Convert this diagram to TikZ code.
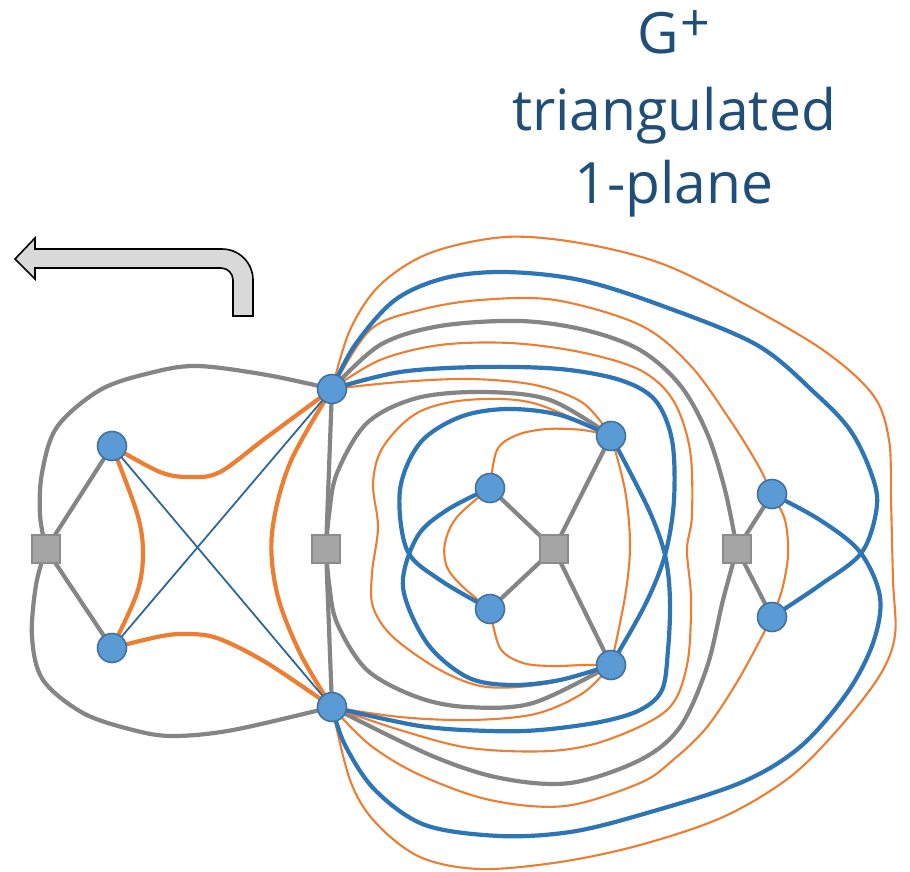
\documentclass[tikz,border=0pt]{standalone}
\usepackage{fontspec}
\setmainfont{Open Sans}
\usetikzlibrary{backgrounds}
\definecolor{eg}{HTML}{858585}
\definecolor{eo}{HTML}{ED7D31}
\definecolor{eb}{HTML}{2E75B6}
\definecolor{ex}{HTML}{2F6699}
\definecolor{nf}{HTML}{5B9BD5}
\definecolor{nd}{HTML}{41719C}
\definecolor{sf}{HTML}{A5A5A5}
\definecolor{sd}{HTML}{8C8C8C}
\definecolor{tc}{HTML}{1F4E79}
\definecolor{af}{HTML}{D9D9D9}
\begin{document}
\begin{tikzpicture}[x=1pt,y=-1pt,
  vtx/.style={circle,fill=nf,draw=nd,line width=1.6pt,minimum size=29pt,inner sep=0pt},
  sq/.style={rectangle,fill=sf,draw=sd,line width=1.6pt,minimum size=28pt,inner sep=0pt},
  ge/.style={draw=eg,line width=4.2pt},
  oe/.style={draw=eo,line width=4.2pt},
  ot/.style={draw=eo,line width=2.1pt},
  be/.style={draw=eb,line width=4.2pt},
  bt/.style={draw=ex,line width=1.8pt},
  sm/.style={smooth,tension=0.55},
  ttl/.style={text=tc,anchor=base,font=\fontsize{57}{57}\selectfont,inner sep=0pt}]
\useasboundingbox (0,0) rectangle (910,871);

% title
\node[ttl] (t1) at (674,53) {G\kern1pt\raisebox{0.2em}{\fontsize{52}{52}\selectfont +}};
\node[ttl] (t2) at (674,130) {triangulated};
\node[ttl] (t3) at (674,203) {1-plane};

% bent arrow
\draw[fill=af,draw=black,line width=1.6pt,line join=miter]
  (233,316) -- (233,280) .. controls (233,273.4) and (227.6,268) .. (221,268)
  -- (35,268) -- (35,279) -- (15,259) -- (35,238) -- (35,249) -- (222,249)
  .. controls (239.1,249) and (253,262.9) .. (253,280) -- (253,316) -- cycle;

% nodes
\node[sq] (S1) at (46,549) {};
\node[vtx] (L1) at (112,446) {};
\node[vtx] (L2) at (112,648) {};
\node[vtx] (T) at (332,389) {};
\node[vtx] (B) at (332,707) {};
\node[sq] (S2) at (326,549) {};
\node[vtx] (I1) at (490,488) {};
\node[vtx] (I2) at (490,609) {};
\node[sq] (S3) at (554,549) {};
\node[vtx] (R1) at (611,436) {};
\node[vtx] (R2) at (611,665) {};
\node[sq] (S4) at (737,549) {};
\node[vtx] (Q1) at (772,494) {};
\node[vtx] (Q2) at (772,617) {};

\begin{scope}[on background layer]
% ---------- gray ----------
\draw[ge] (S1.center) -- (L1.center);
\draw[ge] (S1.center) -- (L2.center);
\draw[ge] (T.center) -- (S2.center);
\draw[ge] (S2.center) -- (B.center);
\draw[ge] (S3.center) -- (I1.center);
\draw[ge] (S3.center) -- (I2.center);
\draw[ge] (S3.center) -- (R1.center);
\draw[ge] (S3.center) -- (R2.center);
\draw[ge] (S4.center) -- (Q1.center);
\draw[ge] (S4.center) -- (Q2.center);
\draw[ge] plot[sm] coordinates {(S1.center) (40,515) (42,473) (57,427) (100,390) (150,373) (197,366) (267,375) (T.center)};
\draw[ge] plot[sm] coordinates {(S1.center) (36,585) (32,637) (43,680) (83,713) (133,730) (173,736) (233,730) (B.center)};
\draw[ge] plot[sm] coordinates {(S2.center) (329,515) (337,473) (367,423) (417,398) (483,392) (550,400) (R1.center)};
\draw[ge] plot[sm] coordinates {(S2.center) (329,583) (337,623) (367,670) (417,697) (467,707) (533,703) (R2.center)};
\draw[ge] plot[sm] coordinates {(T.center) (380,345) (440,326) (520,321) (585,330) (640,350) (680,385) (707,433) (725,490) (S4.center)};
\draw[ge] plot[sm] coordinates {(S4.center) (723,600) (707,667) (680,727) (640,760) (570,783) (500,778) (430,755) (B.center)};

% ---------- orange ----------
\draw[oe] plot[sm] coordinates {(L1.center) (137,513) (143,553) (137,593) (L2.center)};
\draw[oe] plot[sm] coordinates {(L1.center) (160,472) (190,477) (220,472) (267,437) (T.center)};
\draw[oe] plot[sm] coordinates {(L2.center) (157,637) (183,634) (217,638) (267,663) (B.center)};
\draw[oe] plot[sm] coordinates {(T.center) (290,463) (272,533) (277,593) (300,653) (B.center)};

\draw[ot] plot[sm] coordinates {(T.center) (350,330) (380,285) (430,253) (505,237) (580,243) (660,263) (737,300) (823,350) (873,395) (889,440) (891,500) (893,580) (895,635) (880,675) (840,727) (790,777) (723,817) (640,845) (560,862) (480,869) (420,857) (375,822) (350,780) (B.center)};
\draw[ot] plot[sm] coordinates {(T.center) (370,330) (420,310) (480,300) (555,300) (640,325) (690,365) (730,420) (758,465) (Q1.center)};
\draw[ot] plot[sm] coordinates {(Q2.center) (740,677) (707,727) (673,760) (640,783) (565,806) (490,800) (420,775) (370,745) (B.center)};
\draw[ot] plot[sm] coordinates {(T.center) (380,360) (440,345) (510,343) (580,352) (640,370) (673,400) (690,450) (692,515) (687,550) (691,600) (687,665) (667,710) (607,740) (550,751) (470,748) (400,730) (B.center)};
\draw[ot] plot[sm] coordinates {(T.center) (400,382) (470,379) (535,385) (583,403) (R1.center)};
\draw[ot] plot[sm] coordinates {(B.center) (400,717) (470,720) (535,714) (583,693) (R2.center)};
\draw[ot] plot[sm] coordinates {(R1.center) (533,403) (467,400) (417,413) (383,447) (373,483) (378,527) (372,573) (373,607) (393,637) (440,670) (487,687) (550,683) (R2.center)};
\draw[ot] plot[sm] coordinates {(I1.center) (457,517) (445,543) (447,567) (463,587) (I2.center)};
\draw[ot] plot[sm] coordinates {(I1.center) (497,450) (517,435) (547,429) (583,430) (R1.center)};
\draw[ot] plot[sm] coordinates {(I2.center) (500,648) (523,663) (553,666) (583,665) (R2.center)};
\draw[ot] plot[sm] coordinates {(R1.center) (625,490) (630,545) (625,597) (R2.center)};
\draw[ot] plot[sm] coordinates {(Q1.center) (785,520) (788,555) (782,590) (Q2.center)};

% ---------- blue ----------
\draw[bt] (L1.center) -- (B.center);
\draw[bt] (L2.center) -- (T.center);
\draw[be] plot[sm] coordinates {(T.center) (355,345) (395,300) (445,278) (505,272) (580,280) (660,305) (757,345) (817,395) (850,430) (870,470) (877,505) (862,552) (820,585) (Q2.center)};
\draw[be] plot[sm] coordinates {(B.center) (345,745) (375,790) (425,825) (500,836) (570,832) (640,815) (740,783) (800,747) (847,693) (873,643) (880,597) (860,552) (820,520) (Q1.center)};
\draw[be] plot[sm] coordinates {(T.center) (400,372) (480,367) (560,369) (620,380) (655,400) (672,440) (674,500) (665,555) (645,605) (R2.center)};
\draw[be] plot[sm] coordinates {(B.center) (420,726) (490,731) (540,730) (600,722) (640,710) (662,690) (668,650) (670,600) (665,555) (648,508) (R1.center)};
\draw[be] plot[sm] coordinates {(R1.center) (560,415) (507,409) (460,417) (420,443) (400,490) (407,550) (440,580) (I2.center)};
\draw[be] plot[sm] coordinates {(R2.center) (560,680) (510,685) (467,677) (427,643) (403,587) (417,537) (447,510) (I1.center)};
\end{scope}
\end{tikzpicture}
\end{document}
